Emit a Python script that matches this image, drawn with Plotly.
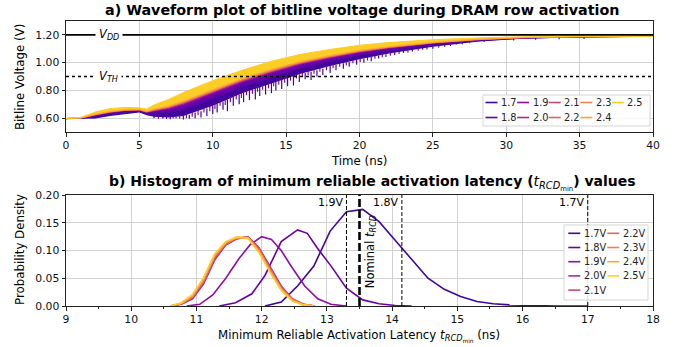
import plotly.graph_objects as go

W, H = 683, 347

def px(x):
    return x / W

def py(y):
    return 1 - y / H

# ---------------- data: panel a (bitline waveforms) ----------------
voltages = ["1.7", "1.8", "1.9", "2.0", "2.1", "2.2", "2.3", "2.4", "2.5"]
colors = ["#41049d", "#6a00a8", "#8f0da4", "#b12a90", "#cc4778",
          "#e16462", "#f2844b", "#fca636", "#fcce25"]

t_ns = [0, 1, 2, 3, 4, 5, 5.5, 6, 7, 8, 10, 12, 14, 16, 18, 20, 22, 25, 28, 31, 35, 40]
wave_floor = [0.595, 0.595, 0.598, 0.615, 0.630, 0.640, 0.620, 0.610, 0.605, 0.615, 0.690,
              0.780, 0.850, 0.920, 0.975, 1.025, 1.065, 1.115, 1.150, 1.172, 1.183, 1.188]
wave_17 = [0.596, 0.598, 0.611, 0.630, 0.643, 0.650, 0.633, 0.634, 0.641, 0.663, 0.740,
           0.826, 0.895, 0.959, 1.009, 1.053, 1.087, 1.129, 1.158, 1.176, 1.185, 1.189]
wave_18 = [0.596, 0.599, 0.619, 0.638, 0.651, 0.655, 0.640, 0.647, 0.662, 0.690, 0.769,
           0.853, 0.920, 0.982, 1.028, 1.069, 1.100, 1.137, 1.162, 1.178, 1.186, 1.189]
wave_19 = [0.597, 0.600, 0.622, 0.642, 0.654, 0.658, 0.643, 0.653, 0.670, 0.700, 0.780,
           0.863, 0.930, 0.990, 1.035, 1.075, 1.105, 1.140, 1.164, 1.179, 1.187, 1.189]
wave_20 = [0.597, 0.600, 0.623, 0.643, 0.655, 0.659, 0.644, 0.655, 0.674, 0.705, 0.785,
           0.867, 0.935, 0.994, 1.039, 1.078, 1.107, 1.142, 1.165, 1.179, 1.187, 1.189]
wave_21 = [0.597, 0.601, 0.624, 0.644, 0.656, 0.659, 0.645, 0.657, 0.677, 0.709, 0.789,
           0.871, 0.938, 0.997, 1.041, 1.080, 1.109, 1.143, 1.165, 1.180, 1.187, 1.189]
wave_22 = [0.597, 0.601, 0.625, 0.645, 0.657, 0.660, 0.645, 0.658, 0.678, 0.711, 0.792,
           0.873, 0.940, 0.999, 1.043, 1.082, 1.110, 1.143, 1.166, 1.180, 1.187, 1.189]
wave_23 = [0.597, 0.601, 0.626, 0.646, 0.658, 0.661, 0.647, 0.661, 0.682, 0.716, 0.797,
           0.878, 0.945, 1.003, 1.046, 1.084, 1.112, 1.144, 1.166, 1.180, 1.187, 1.189]
wave_24 = [0.597, 0.602, 0.628, 0.648, 0.660, 0.663, 0.649, 0.665, 0.688, 0.723, 0.805,
           0.885, 0.952, 1.009, 1.051, 1.088, 1.115, 1.146, 1.168, 1.181, 1.188, 1.189]
wave_25 = [0.598, 0.605, 0.645, 0.668, 0.677, 0.675, 0.665, 0.695, 0.735, 0.785, 0.870,
           0.945, 1.010, 1.060, 1.095, 1.125, 1.145, 1.165, 1.178, 1.186, 1.190, 1.190]

# downward glitches of the slowest (1.7 V) traces
spike_t = [6.0, 6.6, 7.1, 7.5, 8.0, 8.4, 8.8, 9.2, 9.6, 10.0, 10.3, 10.7, 11.0, 11.4, 11.8,
           12.1, 12.5, 12.9, 13.2, 13.6, 14.0, 14.3, 14.7, 15.1, 15.5, 15.9, 16.3, 16.7,
           17.1, 17.5, 18.0, 18.4, 18.9, 19.3, 19.8, 20.3, 20.8, 21.3, 21.8, 22.4, 23.0,
           23.6, 24.3, 25.0, 25.8, 26.6, 27.5, 28.5, 30.5, 32.0, 33.6, 35.3]
spike_lo = [0.600, 0.598, 0.592, 0.600, 0.590, 0.596, 0.600, 0.605, 0.615, 0.630, 0.640,
            0.660, 0.650, 0.690, 0.700, 0.715, 0.730, 0.735, 0.760, 0.770, 0.780, 0.800,
            0.810, 0.830, 0.835, 0.860, 0.880, 0.875, 0.900, 0.910, 0.925, 0.945, 0.955,
            0.970, 0.985, 1.000, 1.010, 1.030, 1.040, 1.055, 1.070, 1.080, 1.095, 1.100,
            1.115, 1.130, 1.140, 1.150, 1.160, 1.165, 1.168, 1.170]
spike_hi = [0.615, 0.612, 0.610, 0.612, 0.615, 0.625, 0.640, 0.650, 0.670, 0.690, 0.705,
            0.720, 0.735, 0.755, 0.770, 0.785, 0.800, 0.815, 0.830, 0.845, 0.855, 0.865,
            0.880, 0.895, 0.905, 0.915, 0.925, 0.935, 0.945, 0.955, 0.975, 0.985, 0.995,
            1.005, 1.020, 1.030, 1.040, 1.050, 1.060, 1.075, 1.085, 1.095, 1.105, 1.115,
            1.125, 1.138, 1.146, 1.157, 1.172, 1.178, 1.180, 1.182]
# shallower glitches of the 1.8 V traces
spike18_t = [6.3, 6.85, 7.3, 7.75, 8.2, 8.6, 9.0, 9.4, 9.8, 10.15, 10.5, 10.85, 11.2, 11.6,
             11.95, 12.3, 12.7, 13.05, 13.4, 13.8, 14.15, 14.5, 14.9, 15.3, 15.7, 16.1, 16.5,
             16.9, 17.3, 17.75, 18.2, 18.65, 19.1, 19.55, 20.05, 20.55, 21.05, 21.55, 22.1,
             22.7, 23.3, 24.0, 24.6, 25.4, 26.2, 27.0]
spike18_lo = [0.595, 0.594, 0.598, 0.596, 0.600, 0.610, 0.620, 0.640, 0.650, 0.665, 0.690,
              0.695, 0.715, 0.735, 0.745, 0.765, 0.775, 0.790, 0.805, 0.815, 0.830, 0.840,
              0.855, 0.870, 0.885, 0.900, 0.910, 0.920, 0.935, 0.945, 0.960, 0.970, 0.980,
              0.995, 1.005, 1.015, 1.028, 1.038, 1.050, 1.062, 1.072, 1.085, 1.095, 1.108,
              1.120, 1.130]
spike18_hi = [0.620, 0.620, 0.620, 0.625, 0.635, 0.650, 0.665, 0.680, 0.695, 0.710, 0.725,
              0.740, 0.755, 0.775, 0.790, 0.800, 0.815, 0.830, 0.840, 0.855, 0.865, 0.880,
              0.895, 0.905, 0.920, 0.935, 0.945, 0.955, 0.965, 0.980, 0.990, 1.000, 1.013,
              1.025, 1.035, 1.045, 1.055, 1.065, 1.075, 1.085, 1.095, 1.105, 1.115, 1.127,
              1.135, 1.143]

v_dd = 1.20
v_th = 0.90

# ---------------- data: panel b (tRCDmin histograms) ----------------
lat_17 = [12.05, 12.3, 12.55, 12.8, 13.05, 13.3, 13.55, 13.8, 14.05, 14.3, 14.55, 14.8,
          15.05, 15.3, 15.55, 15.8, 16.05, 16.5, 17.0]
dens_17 = [0.0, 0.007, 0.036, 0.072, 0.135, 0.170, 0.174, 0.152, 0.118, 0.083, 0.050,
           0.030, 0.017, 0.008, 0.004, 0.002, 0.001, 0.0, 0.0]
lat_18 = [11.35, 11.6, 11.85, 12.05, 12.3, 12.55, 12.7, 12.85, 13.07, 13.3, 13.55, 13.8,
          14.05, 14.3]
dens_18 = [0.0, 0.006, 0.022, 0.055, 0.116, 0.137, 0.131, 0.105, 0.071, 0.032, 0.011,
           0.004, 0.001, 0.0]
lat_19 = [10.85, 11.05, 11.25, 11.45, 11.65, 11.82, 12.0, 12.15, 12.3, 12.45, 12.66, 12.86,
          13.06, 13.3]
dens_19 = [0.0, 0.003, 0.020, 0.050, 0.085, 0.110, 0.125, 0.120, 0.100, 0.072, 0.036,
           0.013, 0.003, 0.0]
lat_hi = [10.6, 10.77, 10.94, 11.11, 11.28, 11.45, 11.62, 11.79, 11.96, 12.13, 12.30,
          12.47, 12.64, 12.81]
dens_20 = [0.0, 0.003, 0.013, 0.040, 0.083, 0.110, 0.121, 0.125, 0.105, 0.070, 0.036, 0.013, 0.003, 0.0]
dens_21 = [0.0, 0.004, 0.015, 0.043, 0.086, 0.111, 0.122, 0.124, 0.103, 0.068, 0.034, 0.012, 0.003, 0.0]
dens_22 = [0.0, 0.004, 0.016, 0.045, 0.088, 0.112, 0.122, 0.124, 0.102, 0.066, 0.033, 0.012, 0.003, 0.0]
dens_23 = [0.0, 0.005, 0.018, 0.047, 0.090, 0.114, 0.123, 0.123, 0.100, 0.064, 0.031, 0.011, 0.002, 0.0]
dens_24 = [0.0, 0.005, 0.019, 0.049, 0.092, 0.115, 0.124, 0.123, 0.098, 0.062, 0.030, 0.010, 0.002, 0.0]
dens_25 = [0.0, 0.006, 0.021, 0.051, 0.094, 0.116, 0.124, 0.122, 0.096, 0.060, 0.028, 0.009, 0.002, 0.0]

vmin_labels = ["1.9V", "1.8V", "1.7V"]
vmin_x = [13.3, 14.15, 17.0]
nominal_trcd = 13.5

wave_top = [wave_17, wave_18, wave_19, wave_20, wave_21, wave_22, wave_23, wave_24, wave_25]
hist_x = [lat_17, lat_18, lat_19, lat_hi, lat_hi, lat_hi, lat_hi, lat_hi, lat_hi]
hist_y = [dens_17, dens_18, dens_19, dens_20, dens_21, dens_22, dens_23, dens_24, dens_25]

FONT = "DejaVu Sans"

fig = go.Figure()

# panel a: stacked bands
fig.add_trace(go.Scatter(x=t_ns, y=wave_floor, mode="lines", line=dict(width=0, color=colors[0]),
                         showlegend=False, hoverinfo="skip", xaxis="x", yaxis="y"))
for v, c, w in zip(voltages, colors, wave_top):
    fig.add_trace(go.Scatter(x=t_ns, y=w, mode="lines", fill="tonexty", fillcolor=c,
                             line=dict(width=1, color=c), name=v, showlegend=False,
                             xaxis="x", yaxis="y"))

def spike_path(ts, los, his):
    xs, ys = [], []
    for t, lo, hi in zip(ts, los, his):
        xs += [t, t, None]
        ys += [lo, hi, None]
    return xs, ys

sx, sy = spike_path(spike18_t, spike18_lo, spike18_hi)
fig.add_trace(go.Scatter(x=sx, y=sy, mode="lines", line=dict(width=1.1, color=colors[1]),
                         showlegend=False, xaxis="x", yaxis="y"))
sx, sy = spike_path(spike_t, spike_lo, spike_hi)
fig.add_trace(go.Scatter(x=sx, y=sy, mode="lines", line=dict(width=1.2, color=colors[0]),
                         showlegend=False, xaxis="x", yaxis="y"))

# panel b: density curves
for v, c, xs, ys in zip(voltages, colors, hist_x, hist_y):
    fig.add_trace(go.Scatter(x=xs, y=ys, mode="lines", line=dict(width=1.6, color=c),
                             name=v + "V", showlegend=False, xaxis="x2", yaxis="y2"))

shapes = []
annotations = []

def note(**kw):
    kw.setdefault("showarrow", False)
    kw.setdefault("xanchor", "center")
    kw.setdefault("yanchor", "middle")
    annotations.append(kw)

# reference levels
shapes.append(dict(type="line", xref="x", yref="y", x0=0, x1=40, y0=v_dd, y1=v_dd,
                   line=dict(color="black", width=1.6)))
shapes.append(dict(type="line", xref="x", yref="y", x0=0, x1=40, y0=v_th, y1=v_th,
                   line=dict(color="black", width=1.6, dash="dot")))
note(x=2.9, y=v_dd, xref="x", yref="y", text="<i>V</i><sub><i>DD</i></sub>",
     bgcolor="white", borderpad=3, font=dict(family=FONT, size=11.5, color="black"))
note(x=2.9, y=v_th, xref="x", yref="y", text="<i>V</i><sub><i>TH</i></sub>",
     bgcolor="white", borderpad=3, font=dict(family=FONT, size=11.5, color="black"))

# vertical markers in panel b
for lab, xv in zip(vmin_labels, vmin_x):
    shapes.append(dict(type="line", xref="x2", yref="y2", x0=xv, x1=xv, y0=0, y1=0.2,
                       line=dict(color="black", width=1, dash="4px,2px")))
    note(x=xv - 0.03, y=0.187, xref="x2", yref="y2", xanchor="right", text=lab,
         font=dict(family=FONT, size=11, color="black"))
shapes.append(dict(type="line", xref="x2", yref="y2", x0=nominal_trcd, x1=nominal_trcd,
                   y0=0, y1=0.2, line=dict(color="black", width=2.6, dash="8px,3px")))
note(x=nominal_trcd + 0.17, y=0.098, xref="x2", yref="y2", textangle=-90,
     text="Nominal <i>t</i><sub><i>RCD</i></sub>", font=dict(family=FONT, size=11.5, color="black"))

# legend a (2 rows, 5 columns)
shapes.append(dict(type="rect", xref="paper", yref="paper", x0=px(483), x1=px(650),
                   y0=py(126), y1=py(95), line=dict(color="#d4d4d4", width=1),
                   fillcolor="rgba(255,255,255,0.85)"))
for i, (v, c) in enumerate(zip(voltages, colors)):
    col, row = i // 2, i % 2
    x0 = 485.5 + col * 31.6
    yy = 102.5 + row * 15
    shapes.append(dict(type="line", xref="paper", yref="paper", x0=px(x0), x1=px(x0 + 12),
                       y0=py(yy), y1=py(yy), line=dict(color=c, width=1.6)))
    note(x=px(x0 + 13.5), y=py(yy), xref="paper", yref="paper", xanchor="left", text=v,
         font=dict(family=FONT, size=9.8, color="#222"))

# legend b (5 rows, 2 columns)
shapes.append(dict(type="rect", xref="paper", yref="paper", x0=px(564), x1=px(648),
                   y0=py(300), y1=py(225), line=dict(color="#d4d4d4", width=1),
                   fillcolor="rgba(255,255,255,0.85)"))
for i, (v, c) in enumerate(zip(voltages, colors)):
    col, row = i // 5, i % 5
    x0 = 568.3 + col * 39
    yy = 233.3 + row * 14.2
    shapes.append(dict(type="line", xref="paper", yref="paper", x0=px(x0), x1=px(x0 + 12),
                       y0=py(yy), y1=py(yy), line=dict(color=c, width=1.6)))
    note(x=px(x0 + 13.5), y=py(yy), xref="paper", yref="paper", xanchor="left", text=v + "V",
         font=dict(family=FONT, size=9.8, color="#222"))

# titles and axis labels
note(x=px(362), y=py(10), xref="paper", yref="paper",
     text="<b>a) Waveform plot of bitline voltage during DRAM row activation</b>",
     font=dict(family=FONT, size=14.3, color="black"))
note(x=px(372), y=py(183), xref="paper", yref="paper",
     text="<b>b) Histogram of minimum reliable activation latency (</b><i>t</i><sub><i>RCD</i><sub>min</sub></sub><b>) values</b>",
     font=dict(family=FONT, size=14, color="black"))
note(x=px(359.5), y=py(161), xref="paper", yref="paper", text="Time (ns)",
     font=dict(family=FONT, size=11.8, color="black"))
note(x=px(359.5), y=py(336), xref="paper", yref="paper",
     text="Minimum Reliable Activation Latency <i>t</i><sub><i>RCD</i><sub>min</sub></sub> (ns)",
     font=dict(family=FONT, size=11.8, color="black"))
note(x=px(20), y=py(77), xref="paper", yref="paper", textangle=-90,
     text="Bitline Voltage (V)", font=dict(family=FONT, size=11.8, color="black"))
note(x=px(20), y=py(250), xref="paper", yref="paper", textangle=-90,
     text="Probability Density", font=dict(family=FONT, size=11.8, color="black"))

axis_common = dict(showline=True, linecolor="#222", linewidth=1, mirror=True,
                   ticks="outside", ticklen=3.5, tickwidth=1, tickcolor="#222",
                   showgrid=True, gridcolor="#d2d2d2", gridwidth=1, zeroline=False,
                   automargin=False,
                   tickfont=dict(family=FONT, size=10.8, color="#111"))

fig.update_layout(
    width=W, height=H,
    margin=dict(l=0, r=0, t=0, b=0, pad=0, autoexpand=False),
    paper_bgcolor="white", plot_bgcolor="white",
    showlegend=False,
    xaxis=dict(domain=[px(66), px(653)], range=[0, 40], tick0=0, dtick=5, anchor="y",
               **axis_common),
    yaxis=dict(domain=[py(132), py(21)], range=[0.5, 1.3], tickvals=[0.6, 0.8, 1.0, 1.2],
               tickformat=".2f", anchor="x", **axis_common),
    xaxis2=dict(domain=[px(66), px(653)], range=[9, 18], tick0=9, dtick=1, anchor="y2",
                minor=dict(dtick=0.5, ticks="outside", ticklen=2, tickcolor="#222", showgrid=False),
                **axis_common),
    yaxis2=dict(domain=[py(306), py(195)], range=[0, 0.2], tick0=0, dtick=0.05,
                tickformat=".2f", anchor="x2", **axis_common),
    shapes=shapes,
    annotations=annotations,
)

fig.write_html("out.html", config={"displayModeBar": False},
               post_script="document.body.style.margin='0px';document.body.style.padding='0px';")
